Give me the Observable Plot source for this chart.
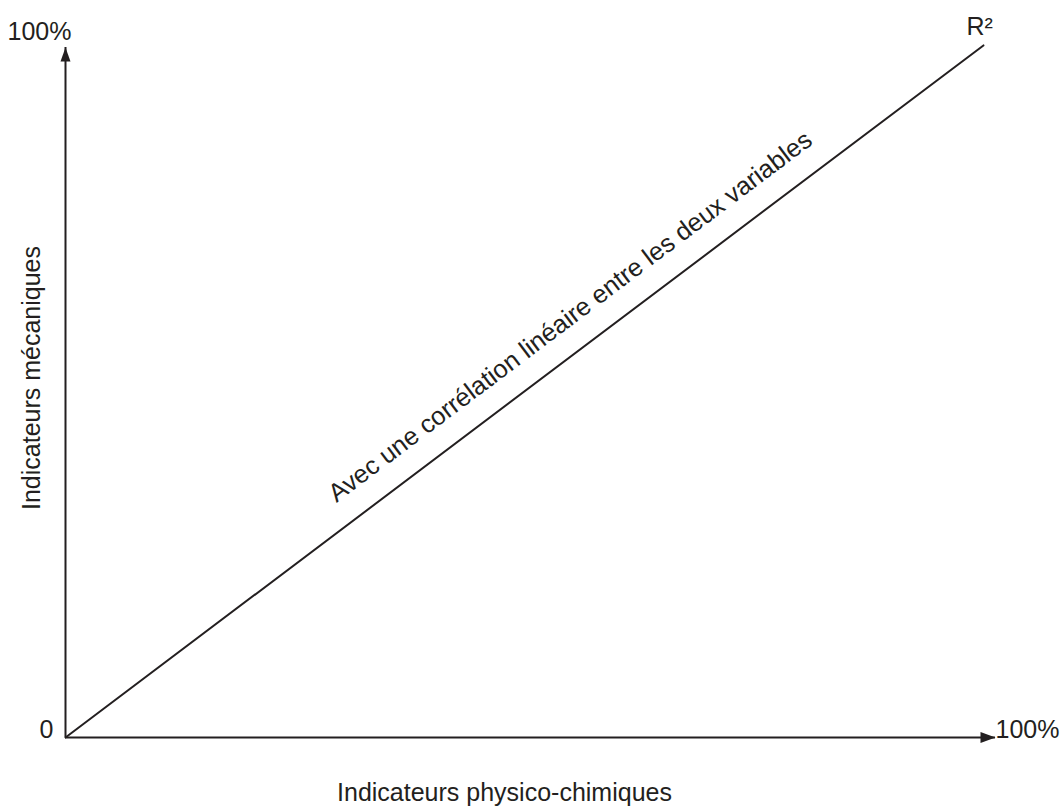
<!DOCTYPE html>
<html>
<head>
<meta charset="utf-8">
<script src="https://cdn.jsdelivr.net/npm/d3@7"></script>
<script src="https://cdn.jsdelivr.net/npm/@observablehq/plot@0.6"></script>
<style>
  html, body { margin: 0; padding: 0; background: #ffffff; }
  #chart svg { display: block; }
</style>
</head>
<body>
<div id="chart"></div>
<script>
// ---- data ----
const axisMax = [100];                       // both axes end at 100 %
const lineX = [0, 98.7];                     // correlation line (x, %)
const lineY = [0, 100.3];                    // correlation line (y, %)
const originLabel = ["0"];
const xEndLabel = ["100%"];
const yEndLabel = ["100%"];
const r2Label = ["R\u00b2"];
const lineLabel = ["Avec une corrélation linéaire entre les deux variables"];
const lineLabelAt = [{x: 54.8, y: 55.7}];
const xTitle = ["Indicateurs physico-chimiques"];
const yTitle = ["Indicateurs mécaniques"];

// ---- style ----
const ink = "#231f20";
const font = "'Liberation Sans', Arial, Helvetica, sans-serif";
const fs = 25;

const arrowRight = {draw(ctx) { ctx.moveTo(0, 0); ctx.lineTo(-15, -5.5); ctx.lineTo(-15, 5.5); ctx.closePath(); }};
const arrowUp = {draw(ctx) { ctx.moveTo(0, 0); ctx.lineTo(-5, 14); ctx.lineTo(5, 14); ctx.closePath(); }};

const linePts = lineX.map((x, i) => ({x, y: lineY[i]}));

const chart = Plot.plot({
  width: 1060,
  height: 808,
  marginLeft: 65,
  marginRight: 65,
  marginTop: 47,
  marginBottom: 71,
  x: {domain: [0, 100], axis: null},
  y: {domain: [0, 100], axis: null},
  style: {fontFamily: font, fontSize: fs + "px", color: ink, background: "#ffffff"},
  marks: [
    // axes
    Plot.ruleY([0], {x1: 0, x2: axisMax[0], stroke: ink, strokeWidth: 2}),
    Plot.ruleX([0], {y1: 0, y2: axisMax[0], stroke: ink, strokeWidth: 2}),
    Plot.dot(axisMax, {x: d => d, y: 0, symbol: arrowRight, fill: ink, stroke: "none", r: 5}),
    Plot.dot(axisMax, {x: 0, y: d => d, symbol: arrowUp, fill: ink, stroke: "none", r: 5}),
    // correlation line
    Plot.line(linePts, {x: "x", y: "y", stroke: ink, strokeWidth: 2}),
    // end labels
    Plot.text(originLabel, {x: 0, y: 0, text: d => d, dx: -19, lineAnchor: "bottom", fill: ink, fontSize: fs}),
    Plot.text(xEndLabel, {x: axisMax[0], y: 0, text: d => d, textAnchor: "start", dx: 0, lineAnchor: "bottom", fill: ink, fontSize: fs}),
    Plot.text(yEndLabel, {x: 0, y: axisMax[0], text: d => d, dx: -26, dy: -8, lineAnchor: "bottom", fill: ink, fontSize: fs}),
    Plot.text(r2Label, {x: lineX[1], y: lineY[1], text: d => d, textAnchor: "start", dx: -17, dy: -10, lineAnchor: "bottom", fill: ink, fontSize: fs}),
    // annotation along the line
    Plot.text(lineLabelAt, {x: "x", y: "y", text: () => lineLabel[0], rotate: -37, dy: -30, textAnchor: "middle", lineAnchor: "bottom", fill: ink, fontSize: 25.5}),
    // axis titles
    Plot.text(xTitle, {frameAnchor: "bottom", text: d => d, dx: -26, dy: 63, textAnchor: "middle", lineAnchor: "bottom", fill: ink, fontSize: fs}),
    Plot.text(yTitle, {frameAnchor: "left", text: d => d, rotate: -90, dx: -25.5, dy: -14.5, textAnchor: "middle", lineAnchor: "bottom", fill: ink, fontSize: fs})
  ]
});

document.getElementById("chart").appendChild(chart);
</script>
</body>
</html>
